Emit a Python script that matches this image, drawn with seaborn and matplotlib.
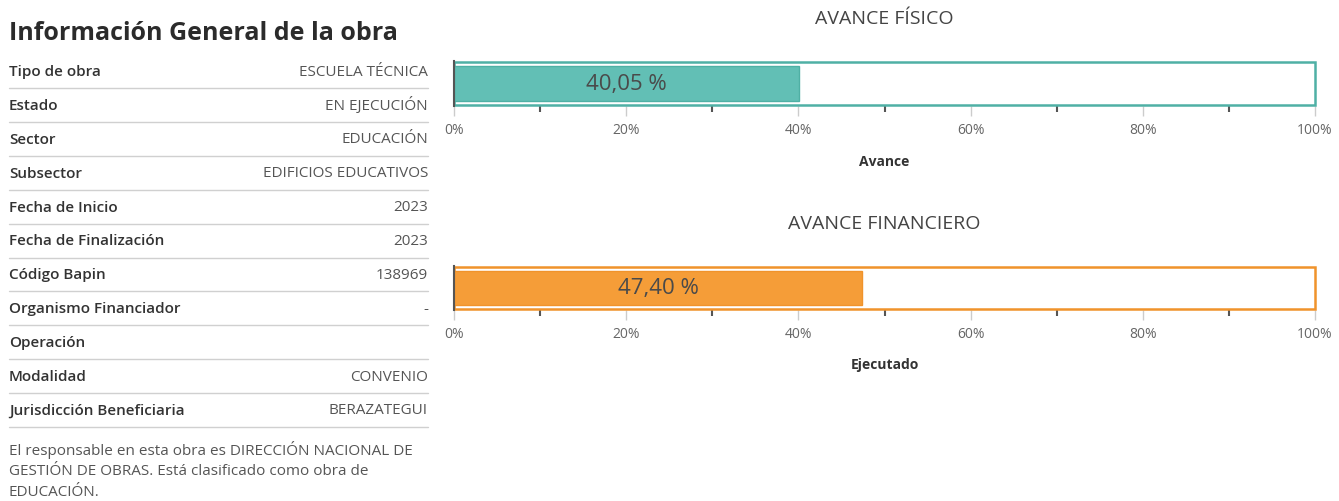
import matplotlib
matplotlib.use('Agg')
import matplotlib.pyplot as plt
import seaborn as sns
import pandas as pd

# ---- data ----
info_labels = ['Tipo de obra', 'Estado', 'Sector', 'Subsector', 'Fecha de Inicio',
               'Fecha de Finalización', 'Código Bapin', 'Organismo Financiador',
               'Operación', 'Modalidad', 'Jurisdicción Beneficiaria']
info_values = ['ESCUELA TÉCNICA', 'EN EJECUCIÓN', 'EDUCACIÓN', 'EDIFICIOS EDUCATIVOS',
               '2023', '2023', '138969', '-', '', 'CONVENIO', 'BERAZATEGUI']
footer_lines = ['El responsable en esta obra es DIRECCIÓN NACIONAL DE',
                'GESTIÓN DE OBRAS. Está clasificado como obra de',
                'EDUCACIÓN.']

chart_titles = ['AVANCE FÍSICO', 'AVANCE FINANCIERO']
chart_cats = ['Avance', 'Ejecutado']
chart_values = [40.05, 47.40]
chart_total = [100, 100]
tick_values = [0, 20, 40, 60, 80, 100]
tick_labels = ['0%', '20%', '40%', '60%', '80%', '100%']
minor_ticks = [10, 30, 50, 70, 90]

fill_colors = ['#62bfb5', '#f59d38']
edge_colors = ['#4fb0a5', '#f0932b']

sns.set_theme(style='white')
plt.rcParams['font.family'] = ['Open Sans', 'DejaVu Sans']

W, H = 1339, 502
fig = plt.figure(figsize=(W / 100, H / 100), dpi=100)

# ---- left info table, drawn in pixel space ----
tab = fig.add_axes([0, 0, 1, 1])
tab.set_xlim(0, W)
tab.set_ylim(H, 0)
tab.axis('off')

tab.text(9, 33, 'Información General de la obra', fontsize=18, fontweight='bold',
         color='#2b2b2b', va='center', ha='left')
row0, step = 72, 33.9
for i, (lab, val) in enumerate(zip(info_labels, info_values)):
    y = row0 + i * step
    tab.text(9, y, lab, fontsize=11, fontweight='semibold', color='#333333',
             va='center', ha='left')
    tab.text(428, y, val, fontsize=11, color='#555555', va='center', ha='right')
    tab.plot([9, 428], [y + 17, y + 17], color='#d0d0d0', lw=1)
for j, line in enumerate(footer_lines):
    tab.text(9, 450 + j * 21.5, line, fontsize=11, color='#555555',
             va='center', ha='left')

# ---- progress bars ----
ax_boxes = [(62, 107), (267, 311)]
for k in range(2):
    top, bot = ax_boxes[k]
    ax = fig.add_axes([454 / W, 1 - bot / H, (1315 - 454) / W, (bot - top) / H])
    df = pd.DataFrame({'cat': [chart_cats[k]], 'total': [chart_total[k]],
                       'value': [chart_values[k]]})
    sns.barplot(data=df, x='total', y='cat', orient='h', color='white',
                edgecolor=edge_colors[k], linewidth=1.8, width=0.96, ax=ax)
    sns.barplot(data=df, x='value', y='cat', orient='h', color=fill_colors[k],
                saturation=1, edgecolor=edge_colors[k], linewidth=1, width=0.78, ax=ax)
    for p in ax.patches:
        p.set_clip_on(False)
    lbl = [f"{v:.2f} %".replace('.', ',') for v in df['value']]
    ax.bar_label(ax.containers[-1], labels=lbl, label_type='center',
                 fontsize=16, color='#4a4a4a')
    ax.set_xlim(0, 100)
    ax.set_ylim(0.5, -0.5)
    ax.set_yticks([])
    ax.set_ylabel('')
    ax.set_xticks(tick_values)
    ax.set_xticklabels(tick_labels)
    ax.set_xticks(minor_ticks, minor=True)
    ax.tick_params(axis='x', which='major', bottom=True, length=7, width=1,
                   color='#cccccc', labelcolor='#666666', labelsize=10, pad=4.4)
    ax.tick_params(axis='x', which='minor', bottom=True, length=4, width=1.5,
                   color='#555555')
    for s in ['top', 'right', 'bottom']:
        ax.spines[s].set_visible(False)
    ax.spines['left'].set_color('#555555')
    ax.spines['left'].set_linewidth(1.5)
    ax.set_xlabel(chart_cats[k], fontsize=10, fontweight='bold', color='#333333',
                  labelpad=12)
    ax.set_title(chart_titles[k], fontsize=14, color='#444444', pad=27)

fig.savefig('out.png', dpi=100)
